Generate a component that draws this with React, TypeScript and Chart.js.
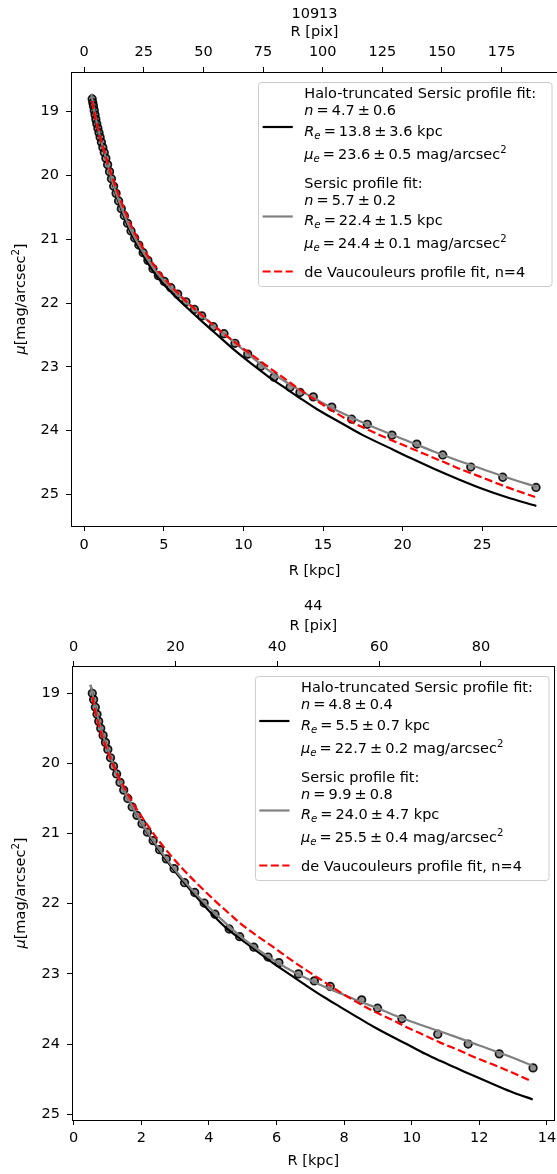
import React, { useEffect, useRef } from "react";
import { Chart, registerables } from "chart.js";

Chart.register(...registerables);

const FONT = '"DejaVu Sans", "Liberation Sans", sans-serif';
const FS = 14.5;
const CAP = 0.3645 * FS;

/* ---------------- galaxy 10913 ---------------- */
const g1Title = "10913";
const g1PointR = [0.50, 0.54, 0.58, 0.63, 0.68, 0.73, 0.79, 0.86, 0.93, 1.00, 1.08, 1.17, 1.26, 1.36, 1.47, 1.59, 1.71, 1.85, 2.00, 2.16, 2.33, 2.52, 2.72, 2.94, 3.17, 3.43, 3.70, 4.00, 4.32, 4.66, 5.03, 5.44, 5.87, 6.39, 6.92, 7.38, 8.11, 8.78, 9.47, 10.27, 11.10, 11.92, 12.93, 13.55, 14.39, 15.55, 16.80, 17.78, 19.33, 20.89, 22.52, 24.28, 26.29, 28.38];
const g1PointMu = [18.80, 18.86, 18.91, 18.98, 19.05, 19.12, 19.19, 19.26, 19.33, 19.40, 19.48, 19.56, 19.64, 19.73, 19.83, 19.94, 20.05, 20.17, 20.28, 20.40, 20.52, 20.63, 20.75, 20.87, 20.98, 21.09, 21.21, 21.33, 21.46, 21.57, 21.66, 21.76, 21.86, 21.98, 22.10, 22.20, 22.37, 22.48, 22.63, 22.80, 22.99, 23.16, 23.32, 23.40, 23.47, 23.63, 23.82, 23.90, 24.07, 24.21, 24.38, 24.57, 24.73, 24.89];
const g1HaloR = [0.45, 0.55, 0.7, 0.9, 1.1, 1.4, 1.8, 2.3, 2.9, 3.6, 4.5, 5.5, 6.5, 7.5, 8.5, 9.5, 10.5, 11.5, 12.5, 13.5, 14.6, 16, 17.5, 19, 20.5, 22, 23.5, 25, 26.5, 28.4];
const g1HaloMu = [18.72, 18.87, 19.07, 19.30, 19.50, 19.77, 20.14, 20.51, 20.88, 21.21, 21.56, 21.84, 22.08, 22.31, 22.53, 22.75, 22.95, 23.14, 23.31, 23.48, 23.66, 23.86, 24.07, 24.25, 24.43, 24.60, 24.76, 24.91, 25.04, 25.18];
const g1SersicR = [0.45, 0.55, 0.7, 0.9, 1.1, 1.4, 1.8, 2.3, 2.9, 3.6, 4.5, 5.5, 6.5, 7.5, 8.5, 9.5, 10.5, 11.5, 12.5, 13.5, 14.5, 16, 17.5, 19, 20.5, 22, 23.5, 25, 26.5, 28.4];
const g1SersicMu = [18.72, 18.87, 19.07, 19.30, 19.49, 19.76, 20.12, 20.48, 20.84, 21.16, 21.50, 21.78, 22.01, 22.22, 22.43, 22.63, 22.84, 23.04, 23.21, 23.36, 23.50, 23.70, 23.87, 24.03, 24.18, 24.33, 24.47, 24.60, 24.73, 24.88];
const g1DevR = [0.5, 0.6, 0.8, 1.0, 1.2, 1.5, 1.8, 2.2, 2.6, 3.0, 3.5, 4.0, 4.55, 5.2, 6.23, 7.3, 8.32, 9.4, 10.41, 11.5, 12.51, 13.5, 14.6, 15.6, 16.7, 17.6, 18.58, 19.6, 20.67, 21.7, 22.77, 23.8, 24.86, 26.5, 28.32];
const g1DevMu = [18.83, 18.98, 19.20, 19.40, 19.57, 19.82, 20.05, 20.33, 20.58, 20.81, 21.05, 21.26, 21.46, 21.66, 21.93, 22.17, 22.39, 22.60, 22.79, 22.99, 23.17, 23.35, 23.53, 23.69, 23.85, 23.96, 24.07, 24.18, 24.29, 24.40, 24.51, 24.62, 24.72, 24.88, 25.04];
const g1KpcTicks = [0, 5, 10, 15, 20, 25];
const g1PixTicks = [0, 25, 50, 75, 100, 125, 150, 175];
const g1MuTicks = [19, 20, 21, 22, 23, 24, 25];
const g1PixPerKpc = 6.675;
const g1HaloParams = ["4.7", "0.6", "13.8", "3.6", "23.6", "0.5"];
const g1SersicParams = ["5.7", "0.2", "22.4", "1.5", "24.4", "0.1"];

/* ---------------- galaxy 44 ---------------- */
const g2Title = "44";
const g2PointR = [0.55, 0.59, 0.64, 0.69, 0.74, 0.80, 0.87, 0.94, 1.01, 1.09, 1.18, 1.27, 1.37, 1.48, 1.60, 1.73, 1.87, 2.02, 2.18, 2.35, 2.54, 2.74, 2.97, 3.28, 3.58, 3.86, 4.18, 4.60, 4.91, 5.33, 5.75, 6.07, 6.65, 7.12, 7.59, 8.52, 8.99, 9.71, 10.77, 11.67, 12.59, 13.59];
const g2PointMu = [19.00, 19.09, 19.20, 19.30, 19.40, 19.50, 19.60, 19.70, 19.80, 19.92, 20.04, 20.15, 20.27, 20.38, 20.50, 20.62, 20.74, 20.86, 20.98, 21.10, 21.23, 21.36, 21.50, 21.70, 21.84, 21.99, 22.15, 22.36, 22.47, 22.62, 22.76, 22.84, 23.00, 23.10, 23.18, 23.37, 23.49, 23.64, 23.86, 24.00, 24.14, 24.34];
const g2HaloR = [0.50, 0.6, 0.7, 0.85, 1.0, 1.2, 1.45, 1.75, 2.1, 2.5, 3.0, 3.5, 4.0, 4.5, 4.93, 5.4, 5.91, 6.4, 6.89, 7.4, 7.88, 8.4, 8.86, 9.4, 9.85, 10.4, 10.84, 11.4, 11.82, 12.5, 13.0, 13.58];
const g2HaloMu = [18.88, 19.12, 19.32, 19.57, 19.79, 20.05, 20.34, 20.63, 20.93, 21.22, 21.54, 21.83, 22.10, 22.34, 22.50, 22.67, 22.85, 23.01, 23.17, 23.33, 23.47, 23.62, 23.75, 23.89, 24.00, 24.14, 24.24, 24.36, 24.45, 24.59, 24.69, 24.79];
const g2SersicR = [0.50, 0.6, 0.7, 0.85, 1.0, 1.2, 1.45, 1.75, 2.1, 2.5, 3.0, 3.5, 4.0, 4.5, 5.0, 5.5, 6.0, 6.5, 7.0, 7.5, 8.0, 8.5, 9.0, 9.7, 10.4, 11.2, 12.0, 12.8, 13.58];
const g2SersicMu = [18.88, 19.12, 19.32, 19.57, 19.79, 20.05, 20.34, 20.63, 20.92, 21.20, 21.52, 21.80, 22.05, 22.28, 22.49, 22.67, 22.83, 22.97, 23.09, 23.20, 23.30, 23.40, 23.49, 23.63, 23.75, 23.88, 24.02, 24.16, 24.31];
const g2DevR = [0.55, 0.62, 0.69, 0.8, 0.95, 1.08, 1.3, 1.57, 1.85, 2.17, 2.5, 2.85, 3.2, 3.54, 3.9, 4.23, 4.6, 4.93, 5.4, 5.91, 6.4, 6.89, 7.4, 7.88, 8.4, 8.86, 9.4, 9.85, 10.4, 10.84, 11.4, 11.82, 12.6, 13.5];
const g2DevMu = [19.05, 19.22, 19.36, 19.55, 19.76, 19.92, 20.16, 20.41, 20.64, 20.87, 21.09, 21.30, 21.49, 21.66, 21.83, 21.98, 22.14, 22.28, 22.45, 22.62, 22.79, 22.95, 23.11, 23.26, 23.41, 23.53, 23.65, 23.76, 23.88, 23.98, 24.09, 24.18, 24.33, 24.52];
const g2KpcTicks = [0, 2, 4, 6, 8, 10, 12, 14];
const g2PixTicks = [0, 20, 40, 60, 80];
const g2MuTicks = [19, 20, 21, 22, 23, 24, 25];
const g2PixPerKpc = 6.64;
const g2HaloParams = ["4.8", "0.4", "5.5", "0.7", "22.7", "0.2"];
const g2SersicParams = ["9.9", "0.8", "24.0", "4.7", "25.5", "0.4"];

/* ---------------- shared text ---------------- */
const legendHaloLabel = "Halo-truncated Sersic profile fit:";
const legendSersicLabel = "Sersic profile fit:";
const legendDevLabel = "de Vaucouleurs profile fit, n=4";
const xLabelKpc = "R [kpc]";
const xLabelPix = "R [pix]";

type Seg = { t: string; it?: boolean; sub?: boolean; sup?: boolean } | number;

function fontStr(size: number, italic?: boolean) {
  return `${italic ? "italic " : ""}${size}px ${FONT}`;
}

function drawRich(ctx: CanvasRenderingContext2D, segs: Seg[], x: number, y: number, size: number, draw = true): number {
  let cx = x;
  for (const s of segs) {
    if (typeof s === "number") {
      cx += s * size;
      continue;
    }
    const sz = s.sub || s.sup ? size * 0.7 : size;
    ctx.font = fontStr(sz, s.it);
    const dy = s.sub ? size * 0.22 : s.sup ? -size * 0.42 : 0;
    if (draw) ctx.fillText(s.t, cx, y + dy);
    cx += ctx.measureText(s.t).width;
  }
  return cx - x;
}

const G = 0.21;
function valLine(sym: Seg[], v: string, e: string, unit: Seg[]): Seg[] {
  return [...sym, G, { t: "=" }, G, { t: v }, G, { t: "±" }, G, { t: e }, ...unit];
}
const nLine = (p: string[]) => valLine([{ t: "n", it: true }], p[0], p[1], []);
const reLine = (p: string[]) => valLine([{ t: "R", it: true }, { t: "e", it: true, sub: true }], p[2], p[3], [{ t: " kpc" }]);
const muLine = (p: string[]) =>
  valLine([{ t: "μ", it: true }, { t: "e", it: true, sub: true }], p[4], p[5], [{ t: " mag/arcsec" }, { t: "2", sup: true }]);
const yLabelSegs: Seg[] = [{ t: "μ", it: true }, { t: "[mag/arcsec" }, { t: "2", sup: true }, { t: "]" }];

interface Panel {
  title: string;
  pointR: number[]; pointMu: number[];
  haloR: number[]; haloMu: number[];
  sersicR: number[]; sersicMu: number[];
  devR: number[]; devMu: number[];
  kpcTicks: number[]; pixTicks: number[]; muTicks: number[];
  pixPerKpc: number;
  haloParams: string[]; sersicParams: string[];
  kpcMin: number; kpcMax: number; muMin: number; muMax: number;
  top: number; w: number; h: number;
  yW: number; topH: number; botH: number; padR: number;
  titleY: number; pixTitlePad: number; topTickPad: number; botTickPad: number; kpcTitlePad: number;
}

const panel1: Panel = {
  title: g1Title,
  pointR: g1PointR, pointMu: g1PointMu,
  haloR: g1HaloR, haloMu: g1HaloMu,
  sersicR: g1SersicR, sersicMu: g1SersicMu,
  devR: g1DevR, devMu: g1DevMu,
  kpcTicks: g1KpcTicks, pixTicks: g1PixTicks, muTicks: g1MuTicks,
  pixPerKpc: g1PixPerKpc,
  haloParams: g1HaloParams, sersicParams: g1SersicParams,
  kpcMin: -0.83, kpcMax: 29.76, muMin: 18.378, muMax: 25.494,
  top: 0, w: 559, h: 580,
  yW: 71, topH: 72, botH: 54, padR: 1,
  titleY: 12.7, pixTitlePad: 23.3, topTickPad: 5.6, botTickPad: 5.3, kpcTitlePad: 0.3,
};

const panel2: Panel = {
  title: g2Title,
  pointR: g2PointR, pointMu: g2PointMu,
  haloR: g2HaloR, haloMu: g2HaloMu,
  sersicR: g2SersicR, sersicMu: g2SersicMu,
  devR: g2DevR, devMu: g2DevMu,
  kpcTicks: g2KpcTicks, pixTicks: g2PixTicks, muTicks: g2MuTicks,
  pixPerKpc: g2PixPerKpc,
  haloParams: g2HaloParams, sersicParams: g2SersicParams,
  kpcMin: -0.05, kpcMax: 14.23, muMin: 18.611, muMax: 25.083,
  top: 580, w: 557, h: 594,
  yW: 72, topH: 86, botH: 54, padR: 2.3,
  titleY: 25, pixTitlePad: 37.3, topTickPad: 5.3, botTickPad: 4.6, kpcTitlePad: 3.6,
};

function zip(xs: number[], ys: number[]) {
  return xs.map((x, i) => ({ x, y: ys[i] }));
}

function drawLegend(ctx: CanvasRenderingContext2D, a: any, p: Panel) {
  const w = 293.5;
  const h = 204;
  const left = a.right - 6.7 - w;
  const top = a.top + 9.5;
  ctx.save();
  ctx.beginPath();
  (ctx as any).roundRect(Math.round(left) + 0.5, Math.round(top) + 0.5, w, h, 3);
  ctx.fillStyle = "rgba(255,255,255,0.8)";
  ctx.fill();
  ctx.strokeStyle = "#cccccc";
  ctx.lineWidth = 1;
  ctx.stroke();
  const hx0 = left + 4.8;
  const hx1 = left + 35;
  const handle = (y: number, color: string, dash: number[]) => {
    ctx.beginPath();
    ctx.setLineDash(dash);
    ctx.strokeStyle = color;
    ctx.lineWidth = 2.2;
    ctx.moveTo(hx0, top + y);
    ctx.lineTo(hx1, top + y);
    ctx.stroke();
  };
  handle(45.5, "#000000", []);
  handle(135, "#808080", []);
  handle(190, "#ff0000", [8, 3.5]);
  ctx.setLineDash([]);
  ctx.fillStyle = "#000";
  ctx.textAlign = "left";
  ctx.textBaseline = "alphabetic";
  const tx = left + 46.5;
  const lines: [number, Seg[]][] = [
    [11, [{ t: legendHaloLabel }]],
    [28.5, nLine(p.haloParams)],
    [49, reLine(p.haloParams)],
    [72, muLine(p.haloParams)],
    [101, [{ t: legendSersicLabel }]],
    [118, nLine(p.sersicParams)],
    [138, reLine(p.sersicParams)],
    [161.5, muLine(p.sersicParams)],
    [190, [{ t: legendDevLabel }]],
  ];
  for (const [dy, segs] of lines) drawRich(ctx, segs, tx, top + dy + CAP, FS);
  ctx.restore();
}

function makeDecor(p: Panel) {
  return {
    id: "decor",
    afterDatasetsDraw(chart: any) {
      drawLegend(chart.ctx, chart.chartArea, p);
    },
    afterDraw(chart: any) {
      const ctx: CanvasRenderingContext2D = chart.ctx;
      const a = chart.chartArea;
      ctx.save();
      ctx.strokeStyle = "#000";
      ctx.lineWidth = 1;
      const l = Math.round(a.left - 0.5) + 0.5;
      const r = Math.round(a.right - 0.5) + 0.5;
      const t = Math.round(a.top - 0.5) + 0.5;
      const b = Math.round(a.bottom - 0.5) + 0.5;
      ctx.strokeRect(l, t, r - l, b - t);
      ctx.fillStyle = "#000";
      ctx.font = fontStr(FS);
      ctx.textAlign = "center";
      ctx.textBaseline = "alphabetic";
      ctx.fillText(p.title, (a.left + a.right) / 2, p.titleY + CAP);
      ctx.textAlign = "left";
      const w = drawRich(ctx, yLabelSegs, 0, 0, FS, false);
      ctx.translate(19.5, (a.top + a.bottom) / 2);
      ctx.rotate(-Math.PI / 2);
      drawRich(ctx, yLabelSegs, -w / 2, CAP, FS);
      ctx.restore();
    },
  };
}

function axisCommon(tickVals: number[], pad: number) {
  return {
    afterBuildTicks: (ax: any) => {
      ax.ticks = tickVals.map((v) => ({ value: v }));
    },
    ticks: {
      font: { family: FONT, size: FS },
      color: "#000",
      padding: pad,
      autoSkip: false,
      maxRotation: 0,
      minRotation: 0,
      callback: (v: any) => String(v),
    },
    grid: { display: true, drawOnChartArea: false, drawTicks: true, tickLength: 5, color: "#000", lineWidth: 1 },
    border: { display: false },
  };
}

function buildConfig(p: Panel): any {
  const lineBase = { showLine: true, pointRadius: 0, borderWidth: 2.2, cubicInterpolationMode: "monotone", fill: false };
  return {
    type: "scatter",
    data: {
      datasets: [
        {
          label: "data",
          data: zip(p.pointR, p.pointMu),
          showLine: false,
          pointRadius: 3.8,
          pointBackgroundColor: "rgba(70,70,70,0.6)",
          pointBorderColor: "rgba(0,0,0,0.9)",
          pointBorderWidth: 1.7,
          order: 4,
        },
        { ...lineBase, label: "halo", data: zip(p.haloR, p.haloMu), borderColor: "#000000", order: 3 },
        { ...lineBase, label: "sersic", data: zip(p.sersicR, p.sersicMu), borderColor: "#808080", order: 2 },
        { ...lineBase, label: "dev", data: zip(p.devR, p.devMu), borderColor: "#ff0000", borderDash: [8, 3.5], order: 1 },
      ],
    },
    options: {
      animation: false,
      responsive: false,
      devicePixelRatio: 1,
      events: [],
      layout: { autoPadding: false, padding: { left: 0, right: p.padR, top: 0, bottom: 0 } },
      plugins: { legend: { display: false }, tooltip: { enabled: false }, title: { display: false } },
      scales: {
        x: {
          ...axisCommon(p.kpcTicks, p.botTickPad),
          type: "linear",
          axis: "x",
          position: "bottom",
          min: p.kpcMin,
          max: p.kpcMax,
          afterFit: (ax: any) => {
            ax.height = p.botH;
            ax.paddingLeft = 0;
            ax.paddingRight = 0;
          },
          title: {
            display: true,
            text: xLabelKpc,
            color: "#000",
            font: { family: FONT, size: FS },
            padding: { top: 0, bottom: p.kpcTitlePad },
          },
        },
        x2: {
          ...axisCommon(p.pixTicks, p.topTickPad),
          type: "linear",
          axis: "x",
          position: "top",
          min: p.kpcMin * p.pixPerKpc,
          max: p.kpcMax * p.pixPerKpc,
          afterFit: (ax: any) => {
            ax.height = p.topH;
            ax.paddingLeft = 0;
            ax.paddingRight = 0;
          },
          title: {
            display: true,
            text: xLabelPix,
            color: "#000",
            font: { family: FONT, size: FS },
            padding: { top: p.pixTitlePad, bottom: 0 },
          },
        },
        y: {
          ...axisCommon(p.muTicks, 7),
          type: "linear",
          axis: "y",
          position: "left",
          reverse: true,
          min: p.muMin,
          max: p.muMax,
          afterFit: (ax: any) => {
            ax.width = p.yW;
            ax.paddingTop = 0;
            ax.paddingBottom = 0;
          },
        },
      },
    },
    plugins: [makeDecor(p)],
  };
}

function ProfilePanel({ panel }: { panel: Panel }) {
  const ref = useRef<HTMLCanvasElement>(null);
  useEffect(() => {
    const canvas = ref.current;
    if (!canvas) return;
    const chart = new Chart(canvas, buildConfig(panel));
    return () => chart.destroy();
  }, [panel]);
  return (
    <canvas
      ref={ref}
      width={panel.w}
      height={panel.h}
      style={{ position: "absolute", left: 0, top: panel.top, width: panel.w, height: panel.h, display: "block" }}
    />
  );
}

export default function App() {
  return (
    <div
      style={{
        position: "absolute",
        left: 0,
        top: 0,
        width: 557,
        height: 1174,
        overflow: "hidden",
        background: "#ffffff",
      }}
    >
      <ProfilePanel panel={panel1} />
      <ProfilePanel panel={panel2} />
    </div>
  );
}
